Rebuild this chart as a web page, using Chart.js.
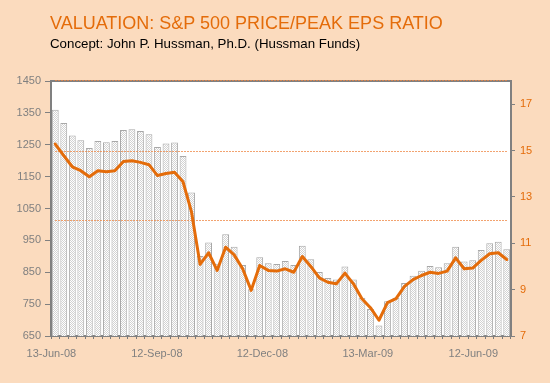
<!DOCTYPE html>
<html><head><meta charset="utf-8">
<script src="https://cdn.jsdelivr.net/npm/chart.js@4"></script>
<style>
html,body{margin:0;padding:0;background:#FBDBBE;}
#wrap{position:relative;width:550px;height:383px;background:#FBDBBE;overflow:hidden;font-family:'Liberation Sans',Arial,sans-serif;}
#title{position:absolute;left:50px;top:14px;font-size:18px;line-height:18px;color:#E46C0A;white-space:nowrap;}
#sub{position:absolute;left:50px;top:37px;font-size:13.3px;line-height:13.3px;color:#000;white-space:nowrap;}
canvas{position:absolute;left:0;top:0;}
</style></head><body>
<div id="wrap">
<canvas id="c" width="550" height="383"></canvas>
<div id="title">VALUATION: S&amp;P 500 PRICE/PEAK EPS RATIO</div>
<div id="sub">Concept: John P. Hussman, Ph.D. (Hussman Funds)</div>
</div>
<script>
const weeks = ['13-Jun-08','20-Jun-08','27-Jun-08','4-Jul-08','11-Jul-08','18-Jul-08','25-Jul-08','1-Aug-08','8-Aug-08','15-Aug-08','22-Aug-08','29-Aug-08','5-Sep-08','12-Sep-08','19-Sep-08','26-Sep-08','3-Oct-08','10-Oct-08','17-Oct-08','24-Oct-08','31-Oct-08','7-Nov-08','14-Nov-08','21-Nov-08','28-Nov-08','5-Dec-08','12-Dec-08','19-Dec-08','26-Dec-08','2-Jan-09','9-Jan-09','16-Jan-09','23-Jan-09','30-Jan-09','6-Feb-09','13-Feb-09','20-Feb-09','27-Feb-09','6-Mar-09','13-Mar-09','20-Mar-09','27-Mar-09','3-Apr-09','10-Apr-09','17-Apr-09','24-Apr-09','1-May-09','8-May-09','15-May-09','22-May-09','29-May-09','5-Jun-09','12-Jun-09','19-Jun-09'];
const spx = [1360,1318,1279,1264,1240,1262,1258,1262,1296,1299,1293,1283,1243,1254,1257,1215,1100,901,943,877,969,930,873,797,897,878,876,885,873,933,891,851,832,827,868,827,770,735,683,759,770,816,839,855,870,866,878,930,884,888,920,941,946,922];
const ratio = [15.28,14.78,14.30,14.13,13.87,14.13,14.09,14.13,14.53,14.56,14.49,14.39,13.92,14.01,14.06,13.65,12.34,10.09,10.59,9.83,10.83,10.5,9.9,8.97,10.04,9.83,9.8,9.9,9.75,10.43,10.0,9.51,9.32,9.25,9.71,9.25,8.61,8.22,7.68,8.44,8.61,9.14,9.43,9.61,9.75,9.7,9.8,10.37,9.9,9.93,10.26,10.55,10.59,10.3];
const leftTicks = [650,750,850,950,1050,1150,1250,1350,1450];
const rightTicks = [7,9,11,13,15,17];
const tickDates = ['2008-06-13','2008-09-12','2008-12-12','2009-03-13','2009-06-12'];
const tickLabels = ['13-Jun-08','12-Sep-08','12-Dec-08','13-Mar-09','12-Jun-09'];
const refLevels = [12, 15, 18];

const DAY = 86400000;
const t0 = Date.parse(tickDates[0]);
const tickDays = tickDates.map(d => Math.round((Date.parse(d) - t0) / DAY));

const FAM = "'Liberation Sans', Arial, sans-serif";
const GRAY = '#808080';
const ORANGE = '#E46C0A';

const pc = document.createElement('canvas');
pc.width = 2; pc.height = 2;
const pctx = pc.getContext('2d');
pctx.fillStyle = '#ffffff'; pctx.fillRect(0,0,2,2);
pctx.fillStyle = '#d2d2d2'; pctx.fillRect(0,0,1,1); pctx.fillRect(1,1,1,1);
const pattern = pctx.createPattern(pc, 'repeat');

const deco = {
  id: 'deco',
  beforeDraw(chart) {
    const {ctx, chartArea: a} = chart;
    ctx.save();
    ctx.fillStyle = '#ffffff';
    ctx.fillRect(a.left, a.top, a.right - a.left, a.bottom - a.top);
    ctx.restore();
  },
  afterDatasetDraw(chart, args) {
    if (args.index !== 0) return;
    const {ctx, chartArea: a} = chart;
    const xs = chart.scales.x, ys = chart.scales.y2;
    ctx.save();
    ctx.strokeStyle = GRAY; ctx.lineWidth = 2;
    ctx.beginPath(); ctx.moveTo(a.left - 1, a.top); ctx.lineTo(a.right + 1, a.top); ctx.stroke();
    ctx.strokeStyle = '#EE8440'; ctx.lineWidth = 1; ctx.setLineDash([1.5, 1.5]);
    const x0 = xs.getPixelForValue(0), x1 = xs.getPixelForValue(weeks.length - 1);
    refLevels.forEach(v => {
      const y = Math.round(ys.getPixelForValue(v)) + 0.5 - (v === 18 ? 1 : 0);
      ctx.beginPath(); ctx.moveTo(x0, y); ctx.lineTo(x1, y); ctx.stroke();
    });
    ctx.restore();
  }
};

new Chart(document.getElementById('c'), {
  data: {
    labels: weeks,
    datasets: [
      {type: 'bar', data: spx, xAxisID: 'x', yAxisID: 'y', backgroundColor: pattern,
       borderColor: '#A8A8A8', borderWidth: 1, barPercentage: 0.8, categoryPercentage: 1, order: 2},
      {type: 'line', data: ratio, xAxisID: 'x', yAxisID: 'y2', borderColor: ORANGE, borderWidth: 3,
       pointRadius: 0, tension: 0, fill: false, order: 1, borderJoinStyle: 'round', borderCapStyle: 'round'}
    ]
  },
  options: {
    responsive: false, animation: false, devicePixelRatio: 1,
    layout: {padding: {left: 0, right: 0, top: 81, bottom: 17}},
    plugins: {legend: {display: false}, tooltip: {enabled: false}, title: {display: false}},
    scales: {
      x: {type: 'category', position: 'bottom', offset: true,
          ticks: {display: false},
          grid: {display: true, drawOnChartArea: false, offset: true, tickLength: 3, color: '#7a7a7a', lineWidth: 1},
          border: {display: true, color: GRAY, width: 2},
          afterFit(s) { s.height = 0; }},
      xd: {type: 'linear', position: 'bottom', min: -0.3, max: 396.5,
          grid: {display: false}, border: {display: false},
          afterBuildTicks(s) { s.ticks = tickDays.map(v => ({value: v})); },
          ticks: {callback: (v, i) => tickLabels[i], color: GRAY, font: {size: 11, family: FAM}, padding: 3, maxRotation: 0, autoSkip: false},
          afterFit(s) { s.height = 30; }},
      y: {position: 'left', min: 650, max: 1450,
          afterBuildTicks(s) { s.ticks = leftTicks.map(v => ({value: v})); },
          ticks: {callback: v => String(v), color: GRAY, font: {size: 11, family: FAM}, padding: 4},
          grid: {drawOnChartArea: false, tickLength: 6, color: GRAY},
          border: {color: GRAY, width: 2},
          afterFit(s) { s.width = 51; }},
      y2: {position: 'right', min: 7, max: 18,
          afterBuildTicks(s) { s.ticks = rightTicks.map(v => ({value: v})); },
          ticks: {callback: v => String(v), color: ORANGE, font: {size: 11, family: FAM}, padding: 5},
          grid: {drawOnChartArea: false, tickLength: 4, color: GRAY},
          border: {color: GRAY, width: 2},
          afterFit(s) { s.width = 39; }}
    }
  },
  plugins: [deco]
});
</script>
</body></html>
